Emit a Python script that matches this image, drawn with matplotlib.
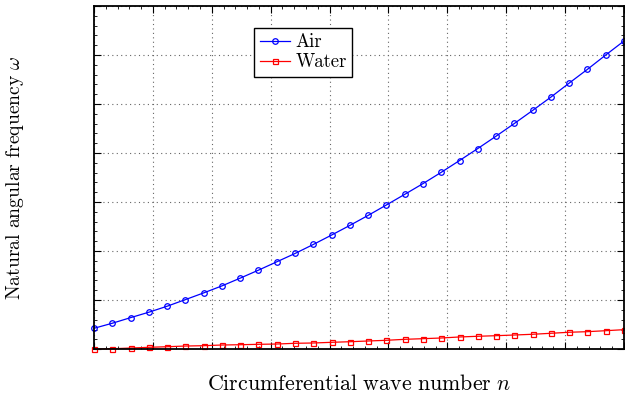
import numpy as np
import matplotlib
matplotlib.use("Agg")
import matplotlib.pyplot as plt
from matplotlib.ticker import LinearLocator, AutoMinorLocator

plt.rcParams["font.family"] = "cmr10"
plt.rcParams["mathtext.fontset"] = "cm"
plt.rcParams["axes.formatter.use_mathtext"] = True

# circumferential wave numbers
n = np.arange(1, 31)

# natural angular frequency, shell in air
omega_air = [0.425, 0.528, 0.642, 0.753, 0.875, 1.010, 1.147, 1.290, 1.448, 1.611,
             1.781, 1.951, 2.135, 2.327, 2.524, 2.728, 2.941, 3.157, 3.376, 3.607,
             3.847, 4.092, 4.344, 4.603, 4.869, 5.141, 5.427, 5.708, 6.000, 6.286]

# natural angular frequency, shell submerged in water
omega_water = [0.002, 0.008, 0.022, 0.037, 0.049, 0.063, 0.070, 0.084, 0.090, 0.098,
               0.104, 0.119, 0.125, 0.139, 0.151, 0.166, 0.180, 0.200, 0.213, 0.227,
               0.248, 0.262, 0.274, 0.288, 0.303, 0.323, 0.344, 0.356, 0.376, 0.397]

fig = plt.figure(figsize=(6.25, 3.99), dpi=100)
ax = fig.add_axes([0.1504, 0.125, 0.848, 0.86])

ax.plot(n, omega_air, color="#0000ff", lw=0.9, marker="o", ms=4.0,
        mfc="none", mew=0.9, label="Air", clip_on=False, zorder=3)
ax.plot(n, omega_water, color="#ff0000", lw=0.9, marker="s", ms=3.6,
        mfc="none", mew=0.9, label="Water", clip_on=False, zorder=3)

ax.set_xlim(1, 30)
ax.set_ylim(0, 7)
ax.xaxis.set_major_locator(LinearLocator(10))
ax.yaxis.set_major_locator(LinearLocator(8))
ax.xaxis.set_minor_locator(AutoMinorLocator(5))
ax.yaxis.set_minor_locator(AutoMinorLocator(5))
ax.tick_params(which="both", direction="in", top=True, right=True,
               labelbottom=False, labelleft=False, color="black")
ax.tick_params(which="major", length=5, width=0.8)
ax.tick_params(which="minor", length=2.5, width=0.6)
for sp in ax.spines.values():
    sp.set_linewidth(1.3)
    sp.set_zorder(4)

ax.grid(True, which="major", linestyle=(0, (1, 3)), color="#666666", lw=0.8)

# TeX-like word spacing through mathtext
ax.set_xlabel(r"$\mathrm{Circumferential}\ \mathrm{wave}\ \mathrm{number}\ n$",
              fontsize=15.8)
ax.set_ylabel(r"$\mathrm{Natural}\ \mathrm{angular}\ \mathrm{frequency}\ \omega$",
              fontsize=14.2)
ax.xaxis.set_label_coords(0.5, -0.073)
ax.yaxis.set_label_coords(-0.128, 0.5)

leg = ax.legend(loc="upper left", bbox_to_anchor=(0.302, 0.936), borderaxespad=0,
                fontsize=13.5, fancybox=False, framealpha=1, edgecolor="black",
                handlelength=1.6, handletextpad=0.3, borderpad=0.3,
                labelspacing=0.1)
leg.get_frame().set_linewidth(1.0)

fig.savefig("out.png", dpi=100)
